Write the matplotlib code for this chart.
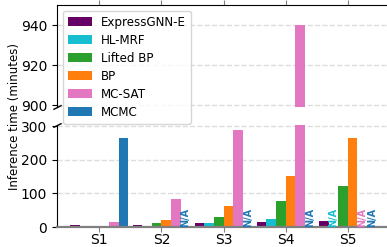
import numpy as np
import matplotlib.pyplot as plt

# data (minutes), NaN = N/A
groups = ['S1', 'S2', 'S3', 'S4', 'S5']
methods = ['ExpressGNN-E', 'HL-MRF', 'Lifted BP', 'BP', 'MC-SAT', 'MCMC']
colors = ['#660066', '#17becf', '#2ca02c', '#ff7f0e', '#e377c2', '#1f77b4']
expressgnn = [5, 5, 12, 15, 18]
hlmrf = [1, 4, 12, 24, np.nan]
lifted_bp = [1, 12, 30, 77, 122]
bp = [1, 20, 62, 152, 263]
mc_sat = [15, 83, 287, 940, np.nan]
mcmc = [263, np.nan, np.nan, np.nan, np.nan]
series = [expressgnn, hlmrf, lifted_bp, bp, mc_sat, mcmc]

W, H = 387, 247
fig = plt.figure(figsize=(W / 100, H / 100), dpi=100)
ax_top = fig.add_axes([57 / W, 1 - 107 / H, 330 / W, 102 / H])
ax_bot = fig.add_axes([57 / W, 1 - 227 / H, 330 / W, 102 / H])
ax_top.set_zorder(3)

x = np.arange(len(groups))
width = 0.155
for ax in (ax_top, ax_bot):
    for i, (name, vals, c) in enumerate(zip(methods, series, colors)):
        v = np.array(vals, dtype=float)
        pos = x + (i - 2.5) * width
        ax.bar(pos, np.nan_to_num(v), width, color=c, label=name, zorder=2)
        if ax is ax_bot:
            for p, val in zip(pos, v):
                if np.isnan(val):
                    ax.text(p, 1, 'N/A', rotation=90, ha='center', va='bottom',
                            color=c, fontsize=7, fontweight='bold', zorder=4)
    ax.set_xlim(-0.68, 4.63)
    ax.yaxis.grid(True, linestyle='--', color='#dddddd', linewidth=1, zorder=0)
    ax.set_axisbelow(True)
    ax.spines['right'].set_visible(False)
    ax.tick_params(axis='y', labelsize=10, length=3.5)
    ax.set_xticks(x)

ax_top.set_ylim(899, 950)
ax_top.set_yticks([900, 920, 940])
ax_top.spines['bottom'].set_visible(False)
ax_top.xaxis.tick_top()
ax_top.tick_params(axis='x', labeltop=False, color='gray', length=3.5)

ax_bot.set_ylim(0, 303)
ax_bot.set_yticks([0, 100, 200, 300])
ax_bot.spines['top'].set_visible(False)
ax_bot.spines['bottom'].set_color('gray')
ax_bot.spines['bottom'].set_linewidth(1.6)
ax_bot.spines['bottom'].set_zorder(3)
ax_bot.set_xticklabels(groups, fontsize=10)
ax_bot.tick_params(axis='x', color='gray', length=3.5, pad=1)

# break marks
kw = dict(marker=[(-1, -0.5), (1, 0.5)], markersize=6, linestyle='none',
          color='k', mec='k', mew=1, clip_on=False)
ax_top.plot([0], [0], transform=ax_top.transAxes, **kw)
ax_bot.plot([0], [1], transform=ax_bot.transAxes, **kw)

ax_top.legend(loc='upper left', fontsize=8.6, labelspacing=0.42)
fig.text(15 / W, 1 - 117 / H, 'Inference time (minutes)', rotation=90,
         ha='center', va='center', fontsize=8.5)

fig.savefig('out.png', dpi=100)
